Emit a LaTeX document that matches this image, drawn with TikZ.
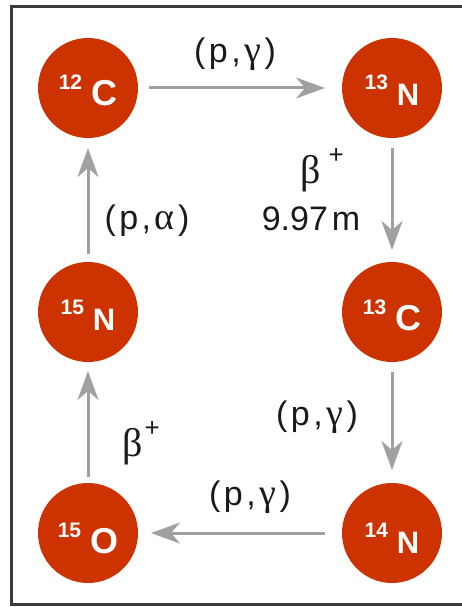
\documentclass[tikz,border=0pt]{standalone}
\usepackage{fontspec}
\setmainfont{Liberation Sans}
\newfontfamily\grk{Liberation Serif}
\usetikzlibrary{arrows.meta}
\definecolor{nuc}{HTML}{CC3300}
\definecolor{arr}{HTML}{A0A0A0}
\definecolor{ink}{HTML}{1A1A1A}
\definecolor{frm}{HTML}{3C3C3C}
\newcommand\nucl[3]{{\fontsize{21}{21}\selectfont\bfseries\raisebox{16pt}{#1}}\hspace{9pt}{\fontsize{#3}{#3}\selectfont\bfseries #2}}
\newcommand\lbl{\fontsize{34}{38}\selectfont}
\newcommand\kk{\hspace{3.5pt}}
\begin{document}
\begin{tikzpicture}[x=1pt,y=-1pt,
  nucleus/.style={circle,fill=nuc,draw=none,minimum size=100pt,inner sep=0pt,outer sep=0pt},
  nuctext/.style={anchor=base,text=white,inner sep=0pt},
  flow/.style={draw=arr,line width=3pt,-{Stealth[length=29pt,width=21pt,inset=9pt]}},
  rlabel/.style={text=ink,inner sep=0pt,font=\lbl}]
\useasboundingbox (0,0) rectangle (462,607);
\fill[white] (0,0) rectangle (462,607);
\draw[frm,line width=3pt] (462,7) -- (11,7) -- (11,604) -- (462,604);
% nuclei
\node[nucleus] (c12) at (88,88) {};
\node[nucleus] (n13) at (392,88) {};
\node[nucleus] (c13) at (392,312) {};
\node[nucleus] (n15) at (88,312) {};
\node[nucleus] (o15) at (88,533) {};
\node[nucleus] (n14) at (392,533) {};
\node[nuctext] (t12c) at ([yshift=-18pt]c12.center) {\nucl{12}{C}{36}};
\node[nuctext] (t13n) at ([yshift=-18pt]n13.center) {\nucl{13}{N}{31}};
\node[nuctext] (t13c) at ([yshift=-18pt]c13.center) {\nucl{13}{C}{36}};
\node[nuctext] (t15n) at ([yshift=-18pt]n15.center) {\nucl{15}{N}{31}};
\node[nuctext] (t15o) at ([yshift=-20pt]o15.center) {\nucl{15}{O}{36}};
\node[nuctext] (t14n) at ([yshift=-20pt]n14.center) {\nucl{14}{N}{31}};
% arrows
\draw[flow,shorten <=11pt,shorten >=17pt] (c12) -- (n13);
\draw[flow,shorten <=10pt,shorten >=12pt] (n13) -- (c13);
\draw[flow,shorten <=10pt,shorten >=13pt] (c13) -- (n14);
\draw[flow,shorten <=17pt,shorten >=13pt] (n14) -- (o15);
\draw[flow,shorten <=6pt,shorten >=9pt] (o15) -- (n15);
\draw[flow,shorten <=8pt,shorten >=10pt] (n15) -- (c12);
% labels
\node[rlabel] (l1) at (235,54) {(\kk p\kk,\kk{\grk\fontsize{38}{38}\selectfont γ}\kk)};
\node[rlabel] (l2) at (322,170) {{\grk\fontsize{40}{40}\selectfont β}\hspace{8pt}\raisebox{20pt}{\fontsize{26}{26}\selectfont +}};
\node[rlabel,anchor=base] (l3) at (311,230) {9.97\hspace{4pt}m};
\node[rlabel] (l4) at (317,417) {(\kk p\kk,\kk{\grk\fontsize{38}{38}\selectfont γ}\kk)};
\node[rlabel] (l5) at (250,497) {(\kk p\kk,\kk{\grk\fontsize{38}{38}\selectfont γ}\kk)};
\node[rlabel] (l6) at (147,221) {(\kk p\kk,\kk{\grk\fontsize{38}{38}\selectfont α}\kk)};
\node[rlabel] (l7) at (141,443) {{\grk\fontsize{40}{40}\selectfont β}\hspace{2pt}\raisebox{20pt}{\fontsize{26}{26}\selectfont +}};
\end{tikzpicture}
\end{document}
